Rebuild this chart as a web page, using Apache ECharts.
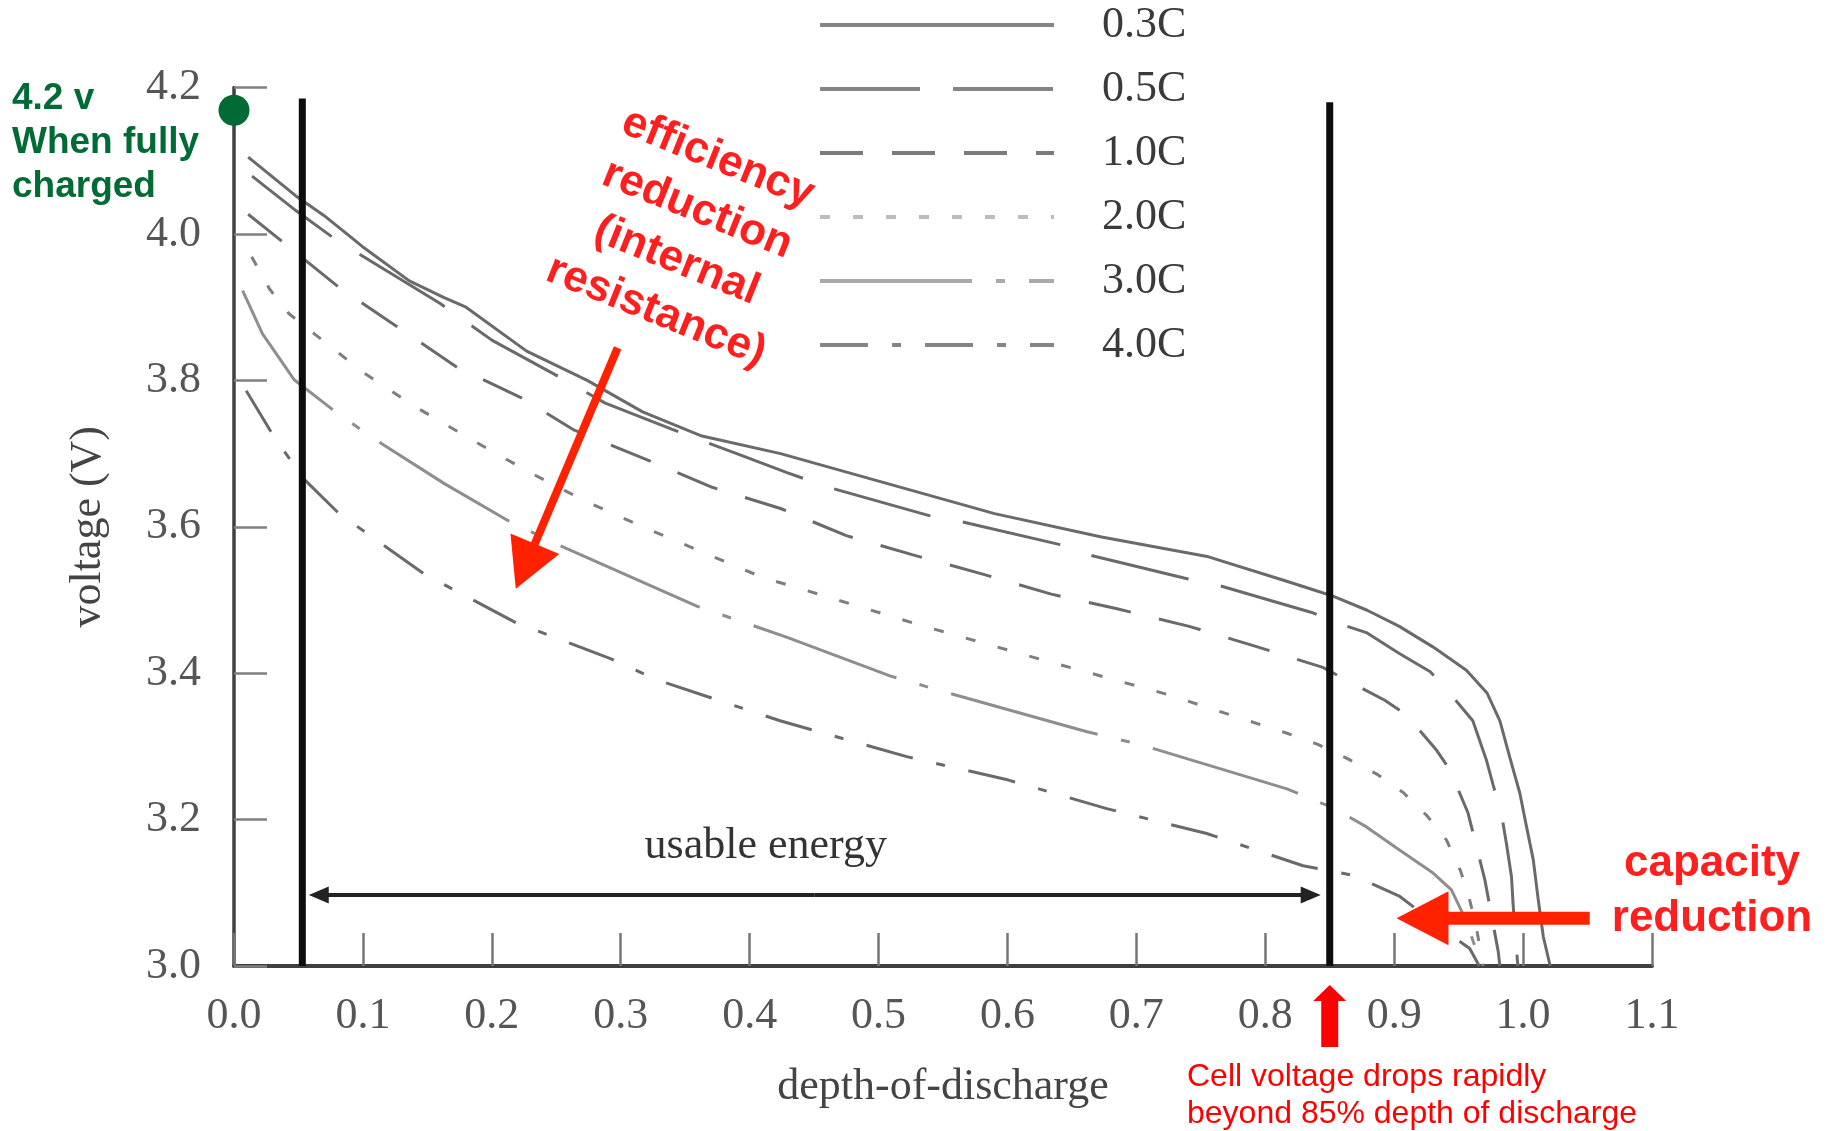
<!DOCTYPE html>
<html><head><meta charset="utf-8">
<script src="https://cdn.jsdelivr.net/npm/echarts@6/dist/echarts.min.js"></script>
<style>html,body{margin:0;padding:0;background:#fff}#c{width:1833px;height:1131px}</style>
</head><body><div id="c"></div>
<script>
// ---- data (depth-of-discharge, voltage) ----
const seriesNames = ['0.3C','0.5C','1.0C','2.0C','3.0C','4.0C'];

const dod03 = [0.011,0.048,0.07,0.0995,0.136,0.163,0.18,0.227,0.274,0.317,0.363,0.424,0.507,0.59,0.673,0.756,0.816,0.839,0.853,0.879,0.904,0.93,0.956,0.972,0.982,0.9897,0.9975,1.0027,1.0079,1.0118,1.0157,1.021];
const v03   = [4.105,4.052,4.025,3.983,3.936,3.913,3.9,3.84,3.8,3.757,3.724,3.7,3.659,3.618,3.586,3.559,3.526,3.513,3.505,3.486,3.464,3.436,3.404,3.373,3.335,3.285,3.236,3.19,3.145,3.09,3.04,3.0];

const dod05 = [0.014,0.048,0.08,0.119,0.16,0.2,0.252,0.288,0.34,0.39,0.429,0.461,0.54,0.562,0.64,0.662,0.737,0.76,0.836,0.857,0.879,0.904,0.928,0.943,0.961,0.9716,0.9768,0.9832,0.9871,0.991,0.9922,0.994,0.996];
const v05   = [4.079,4.032,3.991,3.949,3.905,3.855,3.805,3.769,3.733,3.7,3.674,3.654,3.615,3.608,3.576,3.562,3.53,3.522,3.483,3.468,3.455,3.427,3.402,3.373,3.335,3.281,3.247,3.208,3.167,3.122,3.086,3.04,3.0];

const dod10 = [0.011,0.04,0.0815,0.126,0.173,0.223,0.264,0.321,0.371,0.424,0.475,0.526,0.5815,0.634,0.685,0.741,0.792,0.8446,0.8604,0.8927,0.9095,0.9328,0.9432,0.9573,0.9703,0.9807,0.982];
const v10   = [4.027,3.986,3.927,3.874,3.818,3.776,3.732,3.691,3.654,3.625,3.588,3.562,3.535,3.508,3.488,3.464,3.437,3.408,3.393,3.363,3.343,3.295,3.268,3.209,3.118,3.02,3.0];

const dod20 = [0.0137,0.0275,0.0427,0.0621,0.1009,0.1425,0.1854,0.2297,0.2727,0.3197,0.3654,0.4111,0.4347,0.5316,0.6257,0.724,0.8168,0.8403,0.863,0.8876,0.907,0.9256,0.9406,0.9515,0.9582,0.964,0.969];
const v20   = [3.969,3.925,3.891,3.864,3.81,3.762,3.718,3.674,3.635,3.598,3.564,3.53,3.518,3.466,3.419,3.371,3.318,3.303,3.284,3.261,3.237,3.205,3.172,3.13,3.093,3.05,3.0];

const dod30 = [0.0067,0.022,0.0469,0.0788,0.1106,0.1632,0.2131,0.2505,0.3599,0.4291,0.5094,0.556,0.6617,0.7019,0.8168,0.8334,0.854,0.8785,0.9044,0.9302,0.9444,0.955,0.962,0.967];
const v30   = [3.9225,3.864,3.8005,3.757,3.718,3.659,3.608,3.576,3.491,3.449,3.396,3.372,3.32,3.303,3.242,3.23,3.215,3.19,3.158,3.127,3.104,3.065,3.03,3.0];

const dod40 = [0.0095,0.0303,0.0538,0.0815,0.148,0.2186,0.292,0.328,0.4236,0.5219,0.6008,0.677,0.7546,0.8293,0.868,0.9044,0.9418,0.9586,0.966];
const v40   = [3.786,3.725,3.666,3.618,3.535,3.469,3.42,3.391,3.335,3.286,3.254,3.215,3.181,3.137,3.124,3.095,3.045,3.024,3.0];

// annotation anchors (data units)
const boundaryX = [0.053, 0.85];
const boundaryTop = [4.185, 4.18];
const fullChargePoint = [0, 4.169];
const usableFrom = [0.058, 3.097];
const usableTo = [0.843, 3.097];
const usableLabelAt = [0.4125, 3.163];
const effArrowTail = [0.2976, 3.8444];
const effArrowTip = [0.2186, 3.5152];
const capArrowTail = [1.0517, 3.0652];
const capArrowTip = [0.9018, 3.0652];

// ---- styles ----
const dashes = ['solid', [100,33], [43,29], [10,23], [152,24,9,24], [48,24,9,24]];
const curveColors = ['#6a6a6a','#6a6a6a','#6a6a6a','#7e7e7e','#8e8e8e','#6a6a6a'];
const legendColors = ['#858585','#858585','#7a7a7a','#bbbbbb','#aaaaaa','#858585'];
const xs = [dod03,dod05,dod10,dod20,dod30,dod40];
const ys = [v03,v05,v10,v20,v30,v40];

const serif = '"Liberation Serif", "Times New Roman", serif';
const sans = '"Liberation Sans", Arial, sans-serif';

const chart = echarts.init(document.getElementById('c'), null, {renderer:'canvas'});

const series = seriesNames.map((n,i)=>({
  name:n, type:'line', symbol:'none', smooth:false, z:3,
  data: xs[i].map((x,j)=>[x, ys[i][j]]),
  lineStyle:{color:curveColors[i], width:3, type:dashes[i], cap:'butt'},
  itemStyle:{color:curveColors[i]}
}));
boundaryX.forEach((bx,i)=>{
  series.push({type:'line', symbol:'none', silent:true, z:5,
    data:[[bx,3.0],[bx,boundaryTop[i]]],
    lineStyle:{color:'#0d0d0d', width:7}});
});
series.push({type:'scatter', clip:false, silent:true, z:6, data:[fullChargePoint],
  symbolSize:31, itemStyle:{color:'#006b35', opacity:1}});

const option = {
  animation:false,
  backgroundColor:'#ffffff',
  grid:{left:234, right:181, top:87.6, bottom:165, containLabel:false},
  legend:{
    orient:'vertical', left:818, top:0, padding:0,
    itemWidth:234, itemHeight:20, itemGap:14,
    itemStyle:{color:'rgba(0,0,0,0)', borderColor:'rgba(0,0,0,0)', borderWidth:0},
    lineStyle:{width:4},
    textStyle:{fontFamily:serif, fontSize:44, color:'#3a3a3a', lineHeight:50, padding:[0,0,0,43]},
    data: seriesNames.map((n,i)=>({name:n, lineStyle:{color:legendColors[i], width:4}}))
  },
  xAxis:{
    type:'value', min:0, max:1.1, interval:0.1,
    name:'depth-of-discharge', nameLocation:'middle', nameGap:99,
    nameTextStyle:{fontFamily:serif, fontSize:44, color:'#444'},
    axisLine:{lineStyle:{color:'#404040', width:4}},
    axisTick:{inside:true, length:33, lineStyle:{color:'#777', width:2.5}},
    axisLabel:{margin:28, fontFamily:serif, fontSize:44, color:'#555', formatter:v=>v.toFixed(1)},
    splitLine:{show:false}
  },
  yAxis:{
    type:'value', min:3.0, max:4.2, interval:0.2,
    name:'voltage (V)', nameLocation:'middle', nameGap:124, nameRotate:90,
    nameTextStyle:{fontFamily:serif, fontSize:44, color:'#444'},
    axisLine:{lineStyle:{color:'#404040', width:3.5}},
    axisTick:{inside:true, length:33, lineStyle:{color:'#808080', width:2.5}},
    axisLabel:{margin:33, fontFamily:serif, fontSize:44, color:'#555', formatter:v=>v.toFixed(1)},
    splitLine:{show:false}
  },
  series
};
chart.setOption(option);

// ---- annotations positioned through the chart's scales ----
const P = p => chart.convertToPixel({xAxisIndex:0, yAxisIndex:0}, p);
function arrowEls(tail, tip, shaftW, headL, headW, color){
  const dx = tip[0]-tail[0], dy = tip[1]-tail[1], L = Math.hypot(dx,dy);
  const ux = dx/L, uy = dy/L, bx = tip[0]-ux*headL, by = tip[1]-uy*headL, nx = -uy, ny = ux;
  return [
    {type:'line', z:50, silent:true, shape:{x1:tail[0], y1:tail[1], x2:bx+ux, y2:by+uy}, style:{stroke:color, lineWidth:shaftW, lineCap:'butt'}},
    {type:'polygon', z:50, silent:true, shape:{points:[[tip[0],tip[1]],[bx+nx*headW/2,by+ny*headW/2],[bx-nx*headW/2,by-ny*headW/2]]}, style:{fill:color}}
  ];
}
const g = [];
// usable-energy double arrow
const uL = P(usableFrom), uR = P(usableTo);
const uMid = [(uL[0]+uR[0])/2, uL[1]];
g.push(...arrowEls(uMid, uR, 4, 20, 17, '#222'));
g.push(...arrowEls(uMid, uL, 4, 20, 17, '#222'));
const ul = P(usableLabelAt);
g.push({type:'text', z:50, silent:true, x:ul[0], y:ul[1], style:{text:'usable energy', font:'44px '+serif, fill:'#333', align:'center', verticalAlign:'middle'}});
// efficiency arrow
g.push(...arrowEls(P(effArrowTail), P(effArrowTip), 8, 49, 53, '#ff2200'));
// capacity arrow
g.push(...arrowEls(P(capArrowTail), P(capArrowTip), 13, 52, 54, '#ff2200'));
// up arrow below the 85% boundary
const b85 = P([boundaryX[1], 3.0]);
g.push(...arrowEls([b85[0], b85[1]+81], [b85[0], b85[1]+19], 17, 16, 33, '#ff0000'));
// texts
g.push({type:'text', z:60, silent:true, x:12, y:77, style:{text:'4.2 v\nWhen fully\ncharged', font:'bold 37px '+sans, fill:'#006b35', lineHeight:44, align:'left', verticalAlign:'top'}});
g.push({type:'text', z:60, silent:true, x:687, y:235, rotation:-22*Math.PI/180, style:{text:'efficiency\nreduction\n(internal\nresistance)', font:'bold 44px '+sans, fill:'#ff1f1f', lineHeight:55, align:'center', verticalAlign:'middle'}});
g.push({type:'text', z:60, silent:true, x:1712, y:891.5, style:{text:'capacity\nreduction', font:'bold 44px '+sans, fill:'#ff1f1f', lineHeight:55, align:'center', verticalAlign:'middle'}});
g.push({type:'text', z:60, silent:true, x:1187, y:1095.5, style:{text:'Cell voltage drops rapidly\nbeyond 85% depth of discharge', font:'32px '+sans, fill:'#ff0000', lineHeight:37, align:'left', verticalAlign:'middle'}});
chart.setOption({graphic:g});
</script></body></html>
